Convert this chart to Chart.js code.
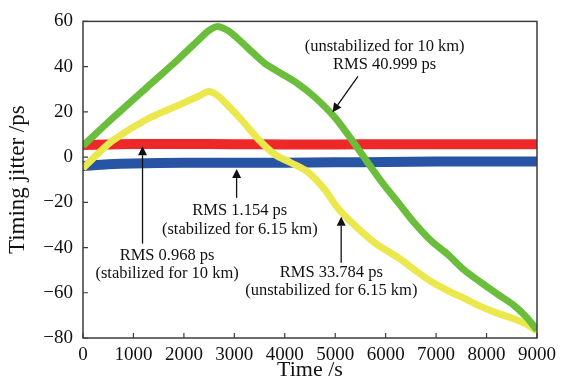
<!DOCTYPE html>
<html>
<head>
<meta charset="utf-8">
<script src="https://cdn.jsdelivr.net/npm/chart.js@4"></script>
<style>
    html, body { margin: 0; padding: 0; background: #ffffff; }
    #wrap { width: 562px; height: 383px; }
</style>
</head>
<body>
<div id="wrap"><canvas id="jitterChart" width="562" height="383"></canvas></div>
<script>
// Values (time in s, jitter in ps)
const greenTimes = [0, 600, 1250, 1900, 2300, 2500, 2650, 2800, 2950, 3275, 3600, 3930, 4255, 4580, 4975, 5300, 5630, 5955, 6280, 6545, 6900, 7230, 7560, 7880, 8210, 8540, 8800, 9000];
const greenValues = [5, 17.5, 30.5, 43.5, 52, 56, 57.7, 56.8, 54.7, 48.1, 41.5, 37, 32.5, 26.8, 18, 8.5, -2, -12, -21, -28.5, -37, -43, -50, -55.3, -60.5, -65.5, -71, -76.5];

const yellowTimes = [0, 270, 600, 1250, 1900, 2300, 2490, 2650, 2820, 3140, 3470, 3800, 4120, 4450, 4780, 5000, 5170, 5500, 5820, 6250, 6580, 6900, 7230, 7560, 7880, 8210, 8540, 8800, 9000];
const yellowValues = [-5, 1, 7.5, 16.5, 23, 27, 29, 27.5, 24, 16.5, 8, 1.2, -2.5, -6.5, -14, -21, -25.5, -32.5, -38.5, -44.5, -50, -55, -59, -62.5, -66, -69, -71.5, -74, -77];

const blueTimes = [0, 500, 1000, 2000, 3000, 4000, 5000, 6000, 7000, 8000, 9000];
const blueValues = [-4, -3.2, -2.8, -2.5, -2.5, -2.5, -2.3, -2.2, -2, -2, -2];

const redTimes = [0, 500, 1000, 2000, 3000, 4000, 5000, 6000, 7000, 8000, 9000];
const redValues = [5.3, 5.6, 5.8, 5.8, 5.7, 5.6, 5.6, 5.7, 5.7, 5.7, 5.7];

const xTicks = [0, 1000, 2000, 3000, 4000, 5000, 6000, 7000, 8000, 9000];
const yTicks = [-80, -60, -40, -20, 0, 20, 40, 60];

// Annotation texts with anchor (data coords) and arrows [fromT, fromV, toT, toV]
const notes = [
    { lines: ['RMS 0.968 ps', '(stabilized for 10 km)'], t: 1667, v: [-43.6, -51.5], arrow: [1180, -38.3, 1180, 4.8] },
    { lines: ['RMS 1.154 ps', '(stabilized for 6.15 km)'], t: 3108, v: [-23.8, -32.3], arrow: [3045, -18, 3045, -5.3] },
    { lines: ['RMS 33.784 ps', '(unstabilized for 6.15 km)'], t: 4922, v: [-51, -59], arrow: [5118, -46.7, 5118, -26.4] },
    { lines: ['(unstabilized for 10 km)', 'RMS 40.999 ps'], t: 5980, v: [48.9, 40.8], arrow: [5451, 35.7, 4947, 19.8] }
];

const serif = "'Liberation Serif', 'Times New Roman', serif";

function toPoints(times, values) {
    return times.map((t, i) => ({ x: t, y: values[i] }));
}

// Frame, inward tick marks, arrows and text labels
const decorations = {
    id: 'decorations',
    afterDraw(chart) {
        const ctx = chart.ctx;
        const area = chart.chartArea;
        const xs = chart.scales.x;
        const ys = chart.scales.y;
        ctx.save();

        ctx.strokeStyle = '#3c3c3c';
        ctx.lineWidth = 1.5;
        ctx.strokeRect(area.left, area.top, area.right - area.left, area.bottom - area.top);

        ctx.lineWidth = 1.2;
        ctx.beginPath();
        xTicks.forEach(t => {
            const px = xs.getPixelForValue(t);
            ctx.moveTo(px, area.bottom);
            ctx.lineTo(px, area.bottom - 5);
        });
        yTicks.forEach(v => {
            const py = ys.getPixelForValue(v);
            ctx.moveTo(area.left, py);
            ctx.lineTo(area.left + 5, py);
        });
        ctx.stroke();

        ctx.fillStyle = '#111111';
        ctx.strokeStyle = '#111111';
        ctx.font = '16.5px ' + serif;
        ctx.textAlign = 'center';
        ctx.textBaseline = 'middle';
        notes.forEach(n => {
            n.lines.forEach((txt, i) => {
                ctx.fillText(txt, xs.getPixelForValue(n.t), ys.getPixelForValue(n.v[i]));
            });
            const x1 = xs.getPixelForValue(n.arrow[0]);
            const y1 = ys.getPixelForValue(n.arrow[1]);
            const x2 = xs.getPixelForValue(n.arrow[2]);
            const y2 = ys.getPixelForValue(n.arrow[3]);
            const ang = Math.atan2(y2 - y1, x2 - x1);
            const headLen = 9, headW = 4.5;
            const bx = x2 - headLen * Math.cos(ang);
            const by = y2 - headLen * Math.sin(ang);
            ctx.lineWidth = 1.3;
            ctx.beginPath();
            ctx.moveTo(x1, y1);
            ctx.lineTo(bx, by);
            ctx.stroke();
            ctx.beginPath();
            ctx.moveTo(x2, y2);
            ctx.lineTo(bx + headW * Math.sin(ang), by - headW * Math.cos(ang));
            ctx.lineTo(bx - headW * Math.sin(ang), by + headW * Math.cos(ang));
            ctx.closePath();
            ctx.fill();
        });
        ctx.restore();
    }
};

const ctx = document.getElementById('jitterChart').getContext('2d');
new Chart(ctx, {
    type: 'line',
    data: {
        datasets: [
            {
                label: 'unstabilized 10 km',
                data: toPoints(greenTimes, greenValues),
                borderColor: 'rgb(106, 190, 60)',
                borderWidth: 7
            },
            {
                label: 'unstabilized 6.15 km',
                data: toPoints(yellowTimes, yellowValues),
                borderColor: 'rgb(234, 232, 76)',
                borderWidth: 7
            },
            {
                label: 'stabilized 6.15 km',
                data: toPoints(blueTimes, blueValues),
                borderColor: 'rgb(40, 84, 165)',
                borderWidth: 10
            },
            {
                label: 'stabilized 10 km',
                data: toPoints(redTimes, redValues),
                borderColor: 'rgb(238, 40, 40)',
                borderWidth: 10
            }
        ]
    },
    options: {
        responsive: false,
        animation: false,
        events: [],
        elements: {
            point: { radius: 0 },
            line: { tension: 0.3, borderCapStyle: 'butt' }
        },
        layout: {
            padding: { left: 0, top: 20, right: 20, bottom: 0 }
        },
        scales: {
            x: {
                type: 'linear',
                min: 0,
                max: 9000,
                afterFit: scale => { scale.height = 45; },
                afterBuildTicks: scale => { scale.ticks = xTicks.map(v => ({ value: v })); },
                grid: { display: false, drawTicks: false },
                border: { display: false },
                ticks: {
                    padding: 6,
                    color: '#111111',
                    maxRotation: 0,
                    font: { family: serif, size: 19 },
                    callback: v => String(v)
                },
                title: {
                    display: true,
                    text: 'Time /s',
                    color: '#111111',
                    padding: { top: 0, bottom: 0 },
                    font: { family: serif, size: 22 }
                }
            },
            y: {
                type: 'linear',
                min: -80,
                max: 60,
                afterFit: scale => { scale.width = 83; },
                afterBuildTicks: scale => { scale.ticks = yTicks.map(v => ({ value: v })); },
                grid: { display: false, drawTicks: false },
                border: { display: false },
                ticks: {
                    padding: 10,
                    color: '#111111',
                    font: { family: serif, size: 19 },
                    callback: v => (v < 0 ? '\u2212' + Math.abs(v) : String(v))
                },
                title: {
                    display: true,
                    text: 'Timing jitter /ps',
                    color: '#111111',
                    padding: { top: 4, bottom: 0 },
                    font: { family: serif, size: 23 }
                }
            }
        },
        plugins: {
            legend: { display: false },
            tooltip: { enabled: false }
        }
    },
    plugins: [decorations]
});
</script>
</body>
</html>
